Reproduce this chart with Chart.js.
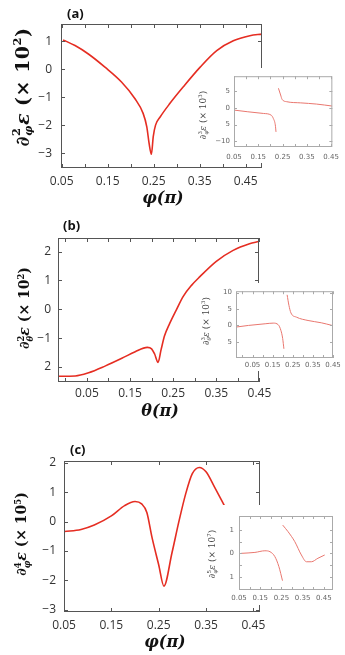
<!DOCTYPE html>
<html>
<head>
<meta charset="utf-8">
<script src="https://cdn.jsdelivr.net/npm/chart.js@4.4.1/dist/chart.umd.min.js"></script>
<style>
  body { margin: 0; background: #fff; }
  #wrap { position: relative; width: 345px; height: 655px; overflow: hidden; background: #fff; }
  canvas { position: absolute; }
  .inset { background: #fff; }
  .panel { position: absolute; font-family: "Open Sans", "Liberation Sans", sans-serif; font-weight: bold; font-size: 13px; color: #111; line-height: 1; }
  .xt { position: absolute; transform: translate(-50%, -50%); font-family: "DejaVu Serif", serif; font-weight: bold; font-style: italic; font-size: 16px; white-space: nowrap; color: #111; }
  .yt { position: absolute; transform: translate(-50%, -50%) rotate(-90deg); white-space: nowrap; font-family: "DejaVu Serif", serif; font-weight: bold; color: #111; }
  .yt.small { font-weight: normal; color: #444; }
  .ss { display: inline-flex; flex-direction: column; vertical-align: middle; font-size: 0.6em; line-height: 1.05; }
  .yt sup { font-size: 0.6em; }
</style>
</head>
<body>
<div id="wrap">
  <canvas id="mainA" style="left:0px;top:0px" width="345" height="190"></canvas>
  <canvas id="mainB" style="left:0px;top:215px" width="345" height="185"></canvas>
  <canvas id="mainC" style="left:0px;top:440px" width="345" height="200"></canvas>
  <canvas id="insetA" class="inset" style="left:212px;top:68px" width="133" height="95"></canvas>
  <canvas id="insetB" class="inset" style="left:196px;top:283px" width="149" height="88"></canvas>
  <canvas id="insetC" class="inset" style="left:200px;top:505px" width="145" height="100"></canvas>

  <div class="panel" style="left:67px;top:7px">(a)</div>
  <div class="panel" style="left:63px;top:219px">(b)</div>
  <div class="panel" style="left:70px;top:443px">(c)</div>

  <div class="xt" style="left:163px;top:197px">φ(π)</div>
  <div class="xt" style="left:160px;top:410px">θ(π)</div>
  <div class="xt" style="left:165px;top:641px">φ(π)</div>

  <div class="yt" style="left:23px;top:87px;font-size:19px;letter-spacing:0.5px"><i>∂</i><span class="ss"><span>2</span><i>φ</i></span><i>ε</i> (× 10<sup>2</sup>)</div>
  <div class="yt" style="left:25px;top:308px;font-size:14px"><i>∂</i><span class="ss"><span>2</span><i>θ</i></span><i>ε</i> (× 10<sup>2</sup>)</div>
  <div class="yt" style="left:22px;top:534px;font-size:14px"><i>∂</i><span class="ss"><span>4</span><i>φ</i></span><i>ε</i> (× 10<sup>5</sup>)</div>

  <div class="yt small" style="left:203px;top:115px;font-size:9px"><i>∂</i><span class="ss"><span>3</span><i>φ</i></span><i>ε</i> (× 10<sup>3</sup>)</div>
  <div class="yt small" style="left:206px;top:321px;font-size:9px"><i>∂</i><span class="ss"><span>3</span><i>θ</i></span><i>ε</i> (× 10<sup>3</sup>)</div>
  <div class="yt small" style="left:212px;top:554px;font-size:9px"><i>∂</i><span class="ss"><span>5</span><i>φ</i></span><i>ε</i> (× 10<sup>7</sup>)</div>
</div>
<script>
// (a) second derivative vs phi
const aX = [0.053, 0.06, 0.079, 0.108, 0.144, 0.18, 0.209, 0.227, 0.235, 0.24, 0.245, 0.249, 0.254, 0.264, 0.285, 0.314, 0.351, 0.387, 0.423, 0.459, 0.485];
const aY = [1.05, 1.0, 0.85, 0.55, 0.08, -0.45, -1.04, -1.57, -2.05, -2.64, -3.03, -2.4, -1.99, -1.7, -1.22, -0.63, 0.08, 0.67, 1.02, 1.2, 1.26];
const aXTicks = [0.05, 0.1, 0.15, 0.2, 0.25, 0.3, 0.35, 0.4, 0.45];
const aXLabels = ["0.05", "", "0.15", "", "0.25", "", "0.35", "", "0.45"];
const aYTicks = [1, 0, -1, -2, -3];
const aYLabels = ["1", "0", "−1", "−2", "−3"];

// (a) inset, third derivative (two branches)
const iaX1 = [0.05, 0.107, 0.171, 0.203, 0.212, 0.22, 0.223];
const iaY1 = [-0.7, -1.2, -1.7, -2.2, -3.2, -5.1, -7.2];
const iaX2 = [0.233, 0.242, 0.248, 0.267, 0.325, 0.389, 0.455];
const iaY2 = [5.8, 3.8, 2.5, 1.8, 1.45, 1.1, 0.5];
const iaXTicks = [0.05, 0.1, 0.15, 0.2, 0.25, 0.3, 0.35, 0.4, 0.45];
const iaXLabels = ["0.05", "", "0.15", "", "0.25", "", "0.35", "", "0.45"];
const iaYTicks = [5, 0, -5, -10];
const iaYLabels = ["5", "0", "5", "−10"];

// (b) second derivative vs theta
const bX = [-0.017, 0.023, 0.054, 0.092, 0.131, 0.162, 0.19, 0.2, 0.207, 0.215, 0.222, 0.23, 0.242, 0.258, 0.273, 0.292, 0.312, 0.35, 0.389, 0.427, 0.448];
const bY = [-2.32, -2.31, -2.2, -1.97, -1.7, -1.47, -1.32, -1.37, -1.55, -1.84, -1.4, -0.92, -0.49, 0.0, 0.44, 0.82, 1.13, 1.66, 2.04, 2.27, 2.35];
const bXTicks = [0, 0.05, 0.1, 0.15, 0.2, 0.25, 0.3, 0.35, 0.4, 0.45];
const bXLabels = ["", "0.05", "", "0.15", "", "0.25", "", "0.35", "", "0.45"];
const bYTicks = [2, 1, 0, -1, -2];
const bYLabels = ["2", "1", "0", "−1", "2"];

// (b) inset
const ibX1 = [-0.032, 0.03, 0.113, 0.153, 0.178, 0.191, 0.2, 0.206];
const ibY1 = [-0.5, 0, 0.5, 0.7, 0.2, -1.5, -4.0, -7.1];
const ibX2 = [0.222, 0.231, 0.241, 0.269, 0.326, 0.392, 0.445];
const ibY2 = [9.3, 6.1, 3.8, 2.5, 1.5, 0.8, 0];
const ibXTicks = [0, 0.05, 0.1, 0.15, 0.2, 0.25, 0.3, 0.35, 0.4, 0.45];
const ibXLabels = ["", "0.05", "", "0.15", "", "0.25", "", "0.35", "", "0.45"];
const ibYTicks = [10, 5, 0, -5];
const ibYLabels = ["10", "5", "0", "5"];

// (c) fourth derivative vs phi
const cX = [0.051, 0.086, 0.114, 0.15, 0.178, 0.2, 0.214, 0.225, 0.236, 0.25, 0.261, 0.278, 0.293, 0.307, 0.321, 0.336, 0.35, 0.368, 0.39];
const cY = [-0.34, -0.27, -0.12, 0.19, 0.54, 0.68, 0.6, 0.31, -0.55, -1.47, -2.2, -1.07, 0.02, 0.94, 1.63, 1.84, 1.69, 1.17, 0.5];
const cXTicks = [0.05, 0.15, 0.25, 0.35, 0.45];
const cXLabels = ["0.05", "0.15", "0.25", "0.35", "0.45"];
const cYTicks = [2, 1, 0, -1, -2, -3];
const cYLabels = ["2", "1", "0", "−1", "−2", "−3"];

// (c) inset, fifth derivative
const icX1 = [0.06, 0.125, 0.172, 0.196, 0.219, 0.238, 0.255];
const icY1 = [0, 0.04, 0.11, 0.07, -0.14, -0.57, -1.17];
const icX2 = [0.256, 0.281, 0.313, 0.344, 0.368, 0.391, 0.422, 0.454];
const icY2 = [1.21, 0.93, 0.5, -0.07, -0.36, -0.36, -0.21, -0.07];
const icXTicks = [0.05, 0.1, 0.15, 0.2, 0.25, 0.3, 0.35, 0.4, 0.45];
const icXLabels = ["0.05", "", "0.15", "", "0.25", "", "0.35", "", "0.45"];
const icYTicks = [1, 0.5, 0, -0.5, -1];
const icYLabels = ["1", "", "0", "", "1"];

// frame round the plot with small inward ticks on all four sides
const boxPlugin = {
  id: "box",
  afterDatasetsDraw(chart, args, opts) {
    const { ctx, chartArea: a, scales } = chart;
    const len = opts.len;
    ctx.save();
    ctx.strokeStyle = opts.color;
    ctx.lineWidth = 1;
    ctx.strokeRect(a.left + 0.5, a.top + 0.5, a.right - a.left - 1, a.bottom - a.top - 1);
    ctx.beginPath();
    scales.x.ticks.forEach((t) => {
      const px = Math.round(scales.x.getPixelForValue(t.value)) + 0.5;
      ctx.moveTo(px, a.bottom);
      ctx.lineTo(px, a.bottom - len);
      ctx.moveTo(px, a.top);
      ctx.lineTo(px, a.top + len);
    });
    scales.y.ticks.forEach((t) => {
      const py = Math.round(scales.y.getPixelForValue(t.value)) + 0.5;
      ctx.moveTo(a.left, py);
      ctx.lineTo(a.left + len, py);
      ctx.moveTo(a.right, py);
      ctx.lineTo(a.right - len, py);
    });
    ctx.stroke();
    ctx.restore();
  },
};

function pts(xs, ys) {
  return xs.map((x, i) => ({ x: x, y: ys[i] }));
}

function makeChart(id, s) {
  return new Chart(document.getElementById(id), {
    type: "line",
    data: {
      datasets: s.series.map((d) => ({
        data: pts(d[0], d[1]),
        borderColor: s.lineColor,
        borderWidth: s.lineWidth,
        pointRadius: 0,
        cubicInterpolationMode: "monotone",
        fill: false,
      })),
    },
    plugins: [boxPlugin],
    options: {
      responsive: false,
      animation: false,
      devicePixelRatio: 1,
      layout: { padding: { top: s.padTop, right: s.padRight, left: 0, bottom: 0 } },
      plugins: {
        legend: { display: false },
        tooltip: { enabled: false },
        box: { color: s.frameColor, len: s.tickLen },
      },
      scales: {
        x: {
          type: "linear",
          min: s.xMin,
          max: s.xMax,
          grid: { display: false, drawTicks: false },
          border: { display: false },
          afterBuildTicks: (sc) => { sc.ticks = s.xTicks.map((v) => ({ value: v })); },
          afterFit: (sc) => { sc.height = s.xH; },
          ticks: {
            autoSkip: false,
            maxRotation: 0,
            padding: s.xPad,
            color: s.labelColor,
            font: { family: s.font, size: s.fontSize },
            callback: (v, i) => s.xLabels[i],
          },
        },
        y: {
          type: "linear",
          min: s.yMin,
          max: s.yMax,
          grid: { display: false, drawTicks: false },
          border: { display: false },
          afterBuildTicks: (sc) => { sc.ticks = s.yTicks.map((v) => ({ value: v })); },
          afterFit: (sc) => { sc.width = s.yW; },
          ticks: {
            autoSkip: false,
            padding: s.yPad,
            color: s.labelColor,
            font: { family: s.font, size: s.fontSize },
            callback: (v, i) => s.yLabels[i],
          },
        },
      },
    },
  });
}

const mainStyle = {
  lineColor: "#e52d22", lineWidth: 1.6, frameColor: "#555", tickLen: 4,
  labelColor: "#333", font: "'Open Sans', 'Liberation Sans', sans-serif", fontSize: 12,
};
const insetStyle = {
  lineColor: "#e9776f", lineWidth: 1, frameColor: "#aaa", tickLen: 3,
  labelColor: "#666", font: "'DejaVu Sans', sans-serif", fontSize: 7,
};

makeChart("mainA", Object.assign({}, mainStyle, {
  series: [[aX, aY]],
  xMin: 0.0485, xMax: 0.4854, yMin: -3.52, yMax: 1.62,
  xTicks: aXTicks, xLabels: aXLabels, yTicks: aYTicks, yLabels: aYLabels,
  padTop: 24, padRight: 83, yW: 61, xH: 22, xPad: 6, yPad: 9,
}));

makeChart("mainB", Object.assign({}, mainStyle, {
  series: [[bX, bY]],
  xMin: -0.017, xMax: 0.449, yMin: -2.52, yMax: 2.47,
  xTicks: bXTicks, xLabels: bXLabels, yTicks: bYTicks, yLabels: bYLabels,
  padTop: 23, padRight: 86, yW: 58, xH: 18, xPad: 4, yPad: 7,
}));

makeChart("mainC", Object.assign({}, mainStyle, {
  series: [[cX, cY]],
  xMin: 0.05, xMax: 0.464, yMin: -3.08, yMax: 2.06,
  xTicks: cXTicks, xLabels: cXLabels, yTicks: cYTicks, yLabels: cYLabels,
  padTop: 21, padRight: 85, yW: 64, xH: 28, xPad: 6, yPad: 8,
}));

makeChart("insetA", Object.assign({}, insetStyle, {
  series: [[iaX1, iaY1], [iaX2, iaY2]],
  xMin: 0.05, xMax: 0.455, yMin: -11.7, yMax: 9.4,
  xTicks: iaXTicks, xLabels: iaXLabels, yTicks: iaYTicks, yLabels: iaYLabels,
  padTop: 8, padRight: 6, yW: 22, xH: 16, xPad: 6, yPad: 4,
}));

makeChart("insetB", Object.assign({}, insetStyle, {
  series: [[ibX1, ibY1], [ibX2, ibY2]],
  xMin: -0.032, xMax: 0.45, yMin: -9.9, yMax: 10.4,
  xTicks: ibXTicks, xLabels: ibXLabels, yTicks: ibYTicks, yLabels: ibYLabels,
  padTop: 7, padRight: 12, yW: 40, xH: 13, xPad: 3, yPad: 4,
}));

makeChart("insetC", Object.assign({}, insetStyle, {
  series: [[icX1, icY1], [icX2, icY2]],
  xMin: 0.05, xMax: 0.493, yMin: -1.57, yMax: 1.6,
  xTicks: icXTicks, xLabels: icXLabels, yTicks: icYTicks, yLabels: icYLabels,
  padTop: 11, padRight: 12, yW: 39, xH: 15, xPad: 4, yPad: 5,
}));
</script>
</body>
</html>
